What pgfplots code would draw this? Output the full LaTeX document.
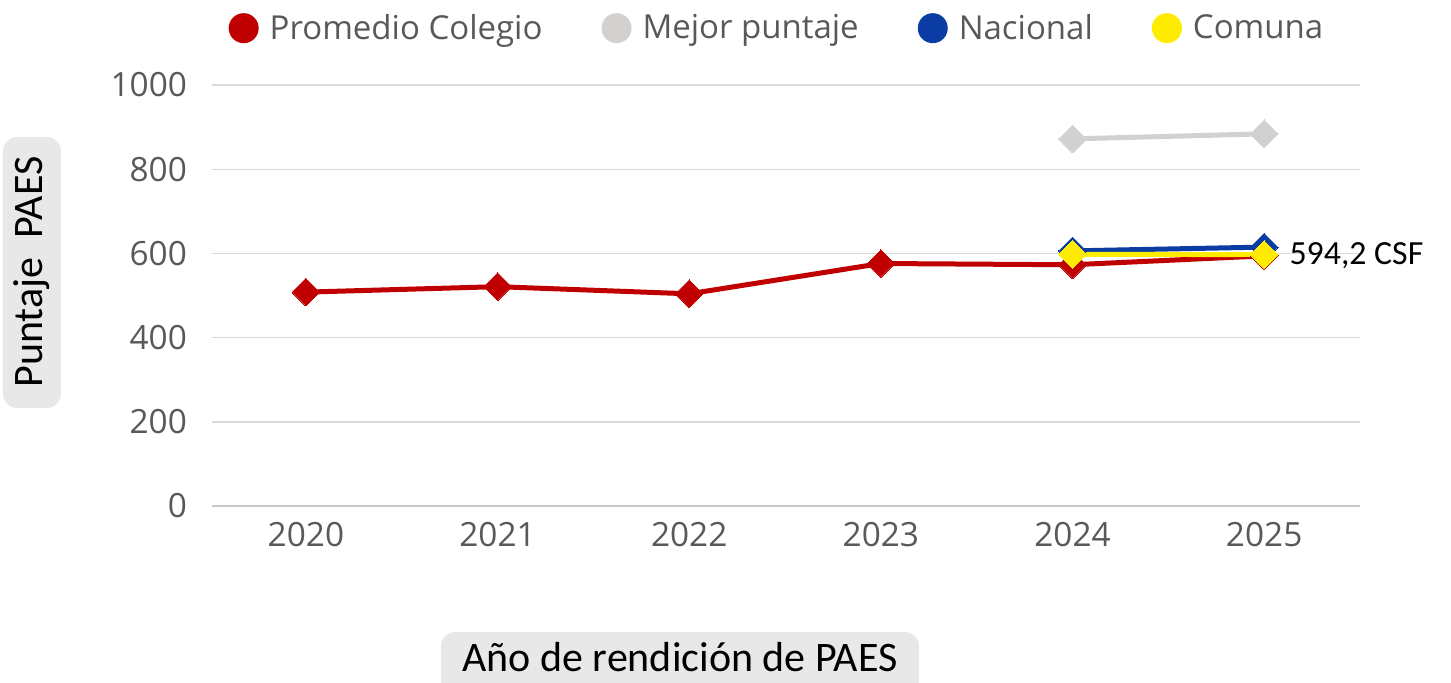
\documentclass[border=0pt]{standalone}
\usepackage{pgfplots}
\pgfplotsset{compat=1.18}
\usepackage{fontspec}
\setmainfont{Open Sans}
\newfontfamily\carlito{Carlito}
\definecolor{cRed}{RGB}{192,0,0}
\definecolor{cGray}{RGB}{210,209,207}
\definecolor{cBlue}{RGB}{11,60,163}
\definecolor{cYellow}{RGB}{255,236,0}
\definecolor{cText}{RGB}{89,89,89}
\definecolor{cGrid}{RGB}{217,217,217}
\definecolor{cAxis}{RGB}{200,200,200}
\definecolor{cBox}{RGB}{232,232,232}
\begin{document}
\begin{tikzpicture}
\useasboundingbox (-106pt,-88pt) rectangle (619.5pt,253pt);
\begin{axis}[
  at={(0pt,0pt)}, anchor=south west,
  width=574pt, height=210.5pt, scale only axis,
  xmin=-0.49, xmax=5.5, ymin=0, ymax=1000,
  xtick={0,1,2,3,4,5}, xticklabels={2020,2021,2022,2023,2024,2025},
  ytick={0,200,400,600,800,1000},
  /pgf/number format/assume math mode=true,
  /pgf/number format/set thousands separator={},
  ymajorgrids, grid style={cGrid, line width=0.7pt},
  axis lines*=left,
  y axis line style={draw=none},
  x axis line style={draw=cAxis, line width=0.9pt},
  major tick length=0pt,
  ticklabel style={font=\fontsize{16.7}{19}\selectfont, text=cText},
  xticklabel style={yshift=-4.5pt},
  yticklabel style={xshift=-9pt},
  clip=false,
  legend style={at={(0.493,1.135)}, anchor=center, draw=none, fill=none,
    font=\fontsize{16.5}{19}\selectfont, text=cText,
    /tikz/every even column/.append style={column sep=27.5pt}},
  legend columns=4,
  legend image code/.code={\path[draw=none, fill=none] (-7.5pt,-7.5pt) rectangle (11pt,7.5pt);\fill[#1, draw=none] (0pt,0pt) circle (7.5pt);},
  every axis plot/.append style={line width=2.5pt, mark=square*, mark size=4.9pt, mark options={rotate=45, solid, line width=0pt}},
]
\addplot[color=cRed] coordinates {(0,508) (1,521) (2,504) (3,576) (4,573) (5,594.2)};
\addlegendentry{Promedio Colegio}
\addplot[color=cGray] coordinates {(4,872) (5,884)};
\addlegendentry{Mejor puntaje}
\addplot[color=cBlue] coordinates {(4,606) (5,615)};
\addlegendentry{Nacional}
\addplot[color=cYellow] coordinates {(4,598) (5,597)};
\addlegendentry{Comuna}
\node[anchor=west, inner sep=0pt, xshift=12.5pt, font=\carlito\fontsize{16.9}{20}\selectfont] at (axis cs:5,594.2) {594,2 CSF};
\end{axis}
\fill[cBox, rounded corners=7pt] (-104.5pt,49pt) rectangle (-75.5pt,184.5pt);
\node[rotate=90, font=\carlito\fontsize{21}{24}\selectfont] at (-90pt,117pt) {Puntaje\ \ PAES};
\fill[cBox, rounded corners=7pt] (114.5pt,-95pt) rectangle (353.5pt,-63pt);
\node[font=\carlito\fontsize{21}{24}\selectfont] at (234pt,-75.5pt) {Año de rendición de PAES};
\end{tikzpicture}
\end{document}
